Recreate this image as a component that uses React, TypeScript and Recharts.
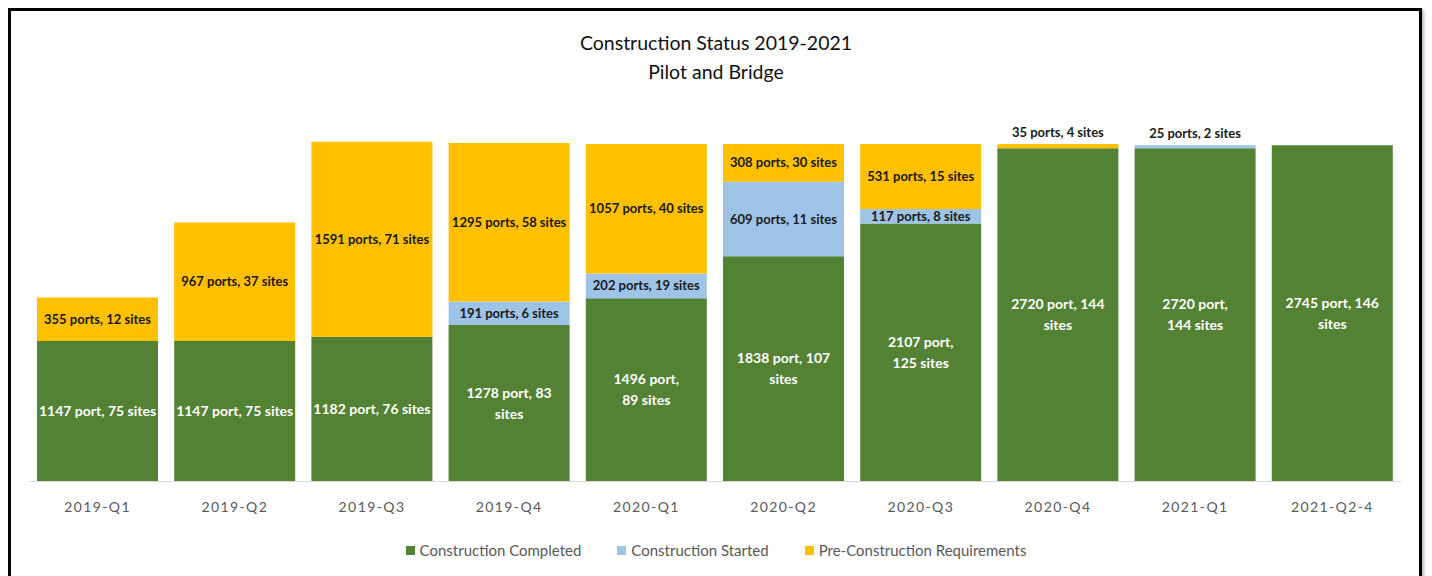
import React from "react";
import { BarChart, Bar, XAxis, YAxis, LabelList } from "recharts";

// quarters on the x axis
const categories = [
  "2019-Q1",
  "2019-Q2",
  "2019-Q3",
  "2019-Q4",
  "2020-Q1",
  "2020-Q2",
  "2020-Q3",
  "2020-Q4",
  "2021-Q1",
  "2021-Q2-4",
];

// ports per status
const completed = [1147, 1147, 1182, 1278, 1496, 1838, 2107, 2720, 2720, 2745];
const started = [0, 0, 0, 191, 202, 609, 117, 0, 25, 0];
const preConstruction = [355, 967, 1591, 1295, 1057, 308, 531, 35, 0, 0];

// label text shown on each segment
const completedLabels = [
  "1147 port, 75 sites",
  "1147 port, 75 sites",
  "1182 port, 76 sites",
  "1278 port, 83\nsites",
  "1496 port,\n89 sites",
  "1838 port, 107\nsites",
  "2107 port,\n125 sites",
  "2720 port, 144\nsites",
  "2720 port,\n144 sites",
  "2745 port, 146\nsites",
];
const startedLabels = [
  "",
  "",
  "",
  "191 ports, 6 sites",
  "202 ports, 19 sites",
  "609 ports, 11 sites",
  "117 ports, 8 sites",
  "",
  "25 ports, 2 sites",
  "",
];
const preLabels = [
  "355 ports, 12 sites",
  "967 ports, 37 sites",
  "1591 ports, 71 sites",
  "1295 ports, 58 sites",
  "1057 ports, 40 sites",
  "308 ports, 30 sites",
  "531 ports, 15 sites",
  "35 ports, 4 sites",
  "",
  "",
];

const GREEN = "#548235";
const BLUE = "#9DC3E6";
const YELLOW = "#FFC000";
const FONT = "Lato, 'Open Sans', sans-serif";

const data = categories.map((name, i) => ({
  name,
  completed: completed[i],
  started: started[i],
  pre: preConstruction[i],
  completedLabel: completedLabels[i],
  startedLabel: startedLabels[i],
  preLabel: preLabels[i],
}));

const makeLabel = (color: string, size: number) => (props: any) => {
  const { x, y, width, height, value, index } = props;
  if (!value) return null;
  const lines = String(value).split("\n");
  const cx = Number(x) + Number(width) / 2;
  const lineH = 21;
  // tiny segments get their label above the bar
  const cy = Number(height) < 8 ? Number(y) - 12 : Number(y) + Number(height) / 2;
  const startY = cy - ((lines.length - 1) * lineH) / 2;
  return (
    <text
      key={`lbl-${index}`}
      textAnchor="middle"
      fontFamily={FONT}
      fontSize={size}
      fontWeight="bold"
      fill={color}
    >
      {lines.map((l, i) => (
        <tspan key={i} x={cx} y={startY + i * lineH} dy="0.35em">
          {l}
        </tspan>
      ))}
    </text>
  );
};

const QuarterTick = (props: any) => {
  const { x, y, payload } = props;
  return (
    <text
      x={x}
      y={y}
      dy={22}
      textAnchor="middle"
      fontFamily={FONT}
      fontSize={14}
      letterSpacing={1.4}
      fill="#595959"
    >
      {payload.value}
    </text>
  );
};

const legendItems = [
  { name: "Construction Completed", color: GREEN },
  { name: "Construction Started", color: BLUE },
  { name: "Pre-Construction Requirements", color: YELLOW },
];

export default function App() {
  return (
    <div
      style={{
        position: "absolute",
        left: 0,
        top: 0,
        width: 1432,
        height: 576,
        overflow: "hidden",
        background: "#fff",
      }}
    >
      <div
        style={{
          position: "absolute",
          left: 8,
          top: 8,
          width: 1408,
          height: 620,
          border: "3px solid #000",
          boxShadow: "2px 2px 3px #bbb",
        }}
      />
      <div
        style={{
          position: "absolute",
          left: 0,
          top: 28,
          width: 1432,
          textAlign: "center",
          fontFamily: FONT,
          fontSize: 19.5,
          lineHeight: "29px",
          color: "#111",
        }}
      >
        <div>Construction Status 2019-2021</div>
        <div>Pilot and Bridge</div>
      </div>
      <div style={{ position: "absolute", left: 0, top: 0 }}>
        <BarChart
          width={1432}
          height={576}
          data={data}
          margin={{ top: 114, right: 31, bottom: 54.5, left: 29 }}
        >
          <XAxis
            dataKey="name"
            height={40}
            tickLine={false}
            axisLine={{ stroke: "#D9D9D9" }}
            tick={<QuarterTick />}
            interval={0}
          />
          <YAxis hide domain={[0, 3000]} />
          <Bar dataKey="completed" stackId="a" fill={GREEN} barSize={121} isAnimationActive={false}>
            <LabelList dataKey="completedLabel" content={makeLabel("#ffffff", 14)} />
          </Bar>
          <Bar dataKey="started" stackId="a" fill={BLUE} barSize={121} isAnimationActive={false}>
            <LabelList dataKey="startedLabel" content={makeLabel("#1a1a1a", 13)} />
          </Bar>
          <Bar dataKey="pre" stackId="a" fill={YELLOW} barSize={121} isAnimationActive={false}>
            <LabelList dataKey="preLabel" content={makeLabel("#1a1a1a", 13)} />
          </Bar>
        </BarChart>
      </div>
      <div
        style={{
          position: "absolute",
          left: 0,
          top: 541,
          width: 1432,
          display: "flex",
          justifyContent: "center",
          gap: 36,
          fontFamily: FONT,
          fontSize: 15,
          color: "#595959",
        }}
      >
        {legendItems.map((it) => (
          <div key={it.name} style={{ display: "flex", alignItems: "center" }}>
            <span
              style={{
                display: "inline-block",
                width: 9,
                height: 9,
                background: it.color,
                marginRight: 5,
              }}
            />
            {it.name}
          </div>
        ))}
      </div>
    </div>
  );
}
